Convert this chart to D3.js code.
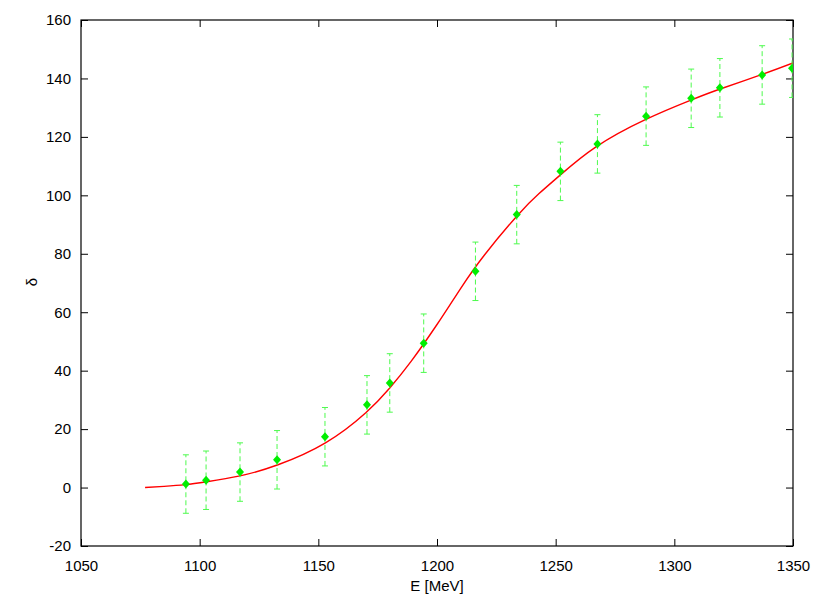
<!DOCTYPE html>
<html>
<head>
<meta charset="utf-8">
<script src="https://cdn.jsdelivr.net/npm/d3@7"></script>
<style>
  html, body { margin: 0; padding: 0; background: #fff; }
  svg { display: block; font-family: "Liberation Sans", Arial, Helvetica, sans-serif; }
</style>
</head>
<body>
<svg id="chart" width="817" height="599"></svg>
<script>
// measured points (E in MeV, phase shift in degrees, error)
const energies = [1094.2, 1102.7, 1117.0, 1132.6, 1152.8, 1170.5, 1180.1, 1194.4, 1216.2,
                  1233.6, 1252.0, 1267.6, 1288.1, 1307.1, 1319.2, 1337.0, 1349.6];
const deltas   = [1.2, 2.5, 5.3, 9.5, 17.4, 28.3, 35.8, 49.4, 74.0,
                  93.4, 108.2, 117.6, 127.1, 133.2, 136.8, 141.2, 143.5];
const errors   = [10, 10, 10, 10, 10, 10, 10, 10, 10, 10, 10, 10, 10, 10, 10, 10, 10];

// fit curve
const fitE     = [1077, 1085, 1094, 1103, 1117, 1133, 1153, 1170, 1180, 1189, 1200,
                  1210, 1220, 1234, 1243, 1252, 1267, 1288, 1307, 1319, 1337, 1350];
const fitDelta = [0.0, 0.4, 1.0, 2.0, 4.0, 7.8, 15.3, 25.6, 34.0, 43.1, 55.8,
                  68.2, 79.6, 93.2, 100.6, 107.0, 116.6, 126.0, 132.6, 136.3, 141.4, 145.3];

const xTicks = [1050, 1100, 1150, 1200, 1250, 1300, 1350];
const yTicks = [-20, 0, 20, 40, 60, 80, 100, 120, 140, 160];

const svg = d3.select('#chart');
const m = {left: 81, top: 20, right: 793, bottom: 546};

const x = d3.scaleLinear().domain([1050, 1350]).range([m.left, m.right]);
const y = d3.scaleLinear().domain([-20, 160]).range([m.bottom, m.top]);

const fontSize = 15;
const fmt = d => String(d); // plain hyphen for negatives, like gnuplot

// clip for data
svg.append('defs').append('clipPath').attr('id', 'clip')
  .append('rect').attr('x', m.left).attr('y', m.top)
  .attr('width', m.right - m.left).attr('height', m.bottom - m.top);

// --- axes (ticks inward, mirrored) ---
const axB = svg.append('g').attr('transform', `translate(0,${m.bottom})`)
  .call(d3.axisBottom(x).tickValues(xTicks).tickSize(-7).tickPadding(14).tickFormat(fmt));
const axT = svg.append('g').attr('transform', `translate(0,${m.top})`)
  .call(d3.axisTop(x).tickValues(xTicks).tickSize(-7).tickFormat(''));
const axL = svg.append('g').attr('transform', `translate(${m.left},0)`)
  .call(d3.axisLeft(y).tickValues(yTicks).tickSize(-7).tickPadding(10).tickFormat(fmt));
const axR = svg.append('g').attr('transform', `translate(${m.right},0)`)
  .call(d3.axisRight(y).tickValues(yTicks).tickSize(-7).tickFormat(''));

[axB, axT, axL, axR].forEach(a => {
  a.select('.domain').remove();
  a.selectAll('line').attr('stroke', '#000').attr('stroke-width', 1);
  a.selectAll('text').attr('fill', '#000').attr('font-size', fontSize)
    .attr('font-family', '"Liberation Sans", Arial, sans-serif');
});
axB.selectAll('text').attr('dy', '0.71em');

// frame
svg.append('rect')
  .attr('x', m.left).attr('y', m.top)
  .attr('width', m.right - m.left).attr('height', m.bottom - m.top)
  .attr('fill', 'none').attr('stroke', '#000').attr('stroke-width', 1.2);

// axis titles
svg.append('text')
  .attr('x', (m.left + m.right) / 2).attr('y', 591)
  .attr('text-anchor', 'middle').attr('font-size', fontSize)
  .text('E [MeV]');
svg.append('text')
  .attr('transform', 'translate(37,282) rotate(-90)')
  .attr('text-anchor', 'middle').attr('font-size', fontSize)
  .text('δ');

const plot = svg.append('g').attr('clip-path', 'url(#clip)');

// fit curve
const fit = fitE.map((e, i) => [e, fitDelta[i]]);
plot.append('path')
  .datum(fit)
  .attr('fill', 'none')
  .attr('stroke', '#ff0000')
  .attr('stroke-width', 1.4)
  .attr('d', d3.line().x(d => x(d[0])).y(d => y(d[1])).curve(d3.curveNatural));

// error bars
const pts = energies.map((e, i) => ({e, d: deltas[i], err: errors[i]}));
const eb = plot.selectAll('.eb').data(pts).join('g').attr('class', 'eb');
eb.append('line')
  .attr('x1', d => x(d.e)).attr('x2', d => x(d.e))
  .attr('y1', d => y(d.d - d.err)).attr('y2', d => y(d.d + d.err))
  .attr('stroke', '#4dfa4d').attr('stroke-width', 1)
  .attr('stroke-dasharray', '5,3');
['-', '+'].forEach(s => {
  eb.append('line')
    .attr('x1', d => x(d.e) - 3).attr('x2', d => x(d.e) + 3)
    .attr('y1', d => y(s === '+' ? d.d + d.err : d.d - d.err))
    .attr('y2', d => y(s === '+' ? d.d + d.err : d.d - d.err))
    .attr('stroke', '#4dfa4d').attr('stroke-width', 1);
});

// markers (filled diamonds)
plot.selectAll('.pt').data(pts).join('path')
  .attr('class', 'pt')
  .attr('transform', d => `translate(${x(d.e)},${y(d.d)})`)
  .attr('d', 'M0,-4.5L4,0L0,4.5L-4,0Z')
  .attr('fill', '#00ee00');
</script>
</body>
</html>
